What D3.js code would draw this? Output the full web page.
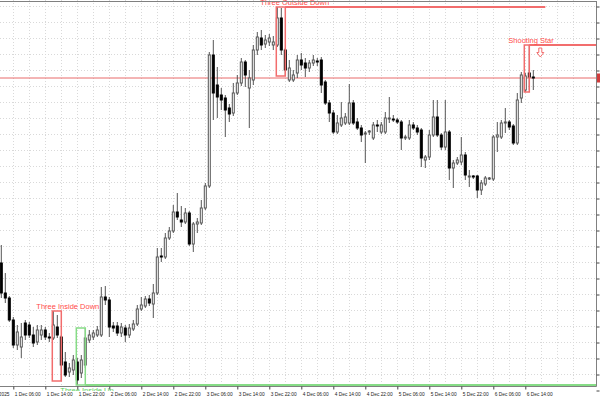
<!DOCTYPE html>
<html>
<head>
<meta charset="utf-8">
<script src="https://cdnjs.cloudflare.com/ajax/libs/d3/7.8.5/d3.min.js"></script>
<style>
body { margin: 0; background: #fff; }
svg { display: block; }
</style>
</head>
<body>
<script>
// hourly bars, first bar = 1 Dec 2025 03:00
var firstBar = Date.UTC(2025, 11, 1, 3)

var opens = [87775, 87025, 86900, 86350, 85725, 85675, 86275, 86225, 85975, 85800,
  85975, 86100, 85925, 85900, 86175, 85925, 85300, 85050, 85100, 85300,
  85025, 85225, 85850, 85925, 85975, 85975, 86925, 86850, 86200, 86200,
  86025, 86150, 85975, 86125, 86250, 86625, 86700, 86875, 86750, 87025,
  87950, 87925, 88400, 88575, 89050, 88850, 88800, 89025, 88250, 88750,
  88775, 89150, 89700, 92975, 92225, 91975, 91900, 91650, 91525, 92025,
  92275, 92800, 92150, 92350, 93100, 93400, 93250, 93300, 93225, 93225,
  93900, 93100, 92350, 92350, 92525, 92850, 92775, 92650, 92775, 92825,
  92850, 92300, 91775, 91525, 91050, 91225, 91275, 91275, 91775, 91300,
  91150, 91000, 91050, 90900, 91225, 91050, 91050, 91375, 91375, 91350,
  91300, 90900, 90900, 91225, 91150, 91100, 90350, 90425, 90975, 91425,
  90975, 90675, 91050, 90150, 90275, 90300, 90475, 89925, 89950, 89950,
  89600, 89750, 89875, 89875, 90925, 90925, 91275, 91300, 91200, 90775,
  91900, 92100, 92525, 92425]
var highs = [88225, 87525, 86950, 86425, 86225, 86275, 86350, 86300, 86175, 86225,
  86225, 86175, 86025, 86575, 86475, 85975, 85550, 85275, 85475, 85400,
  85475, 86150, 86100, 86100, 86200, 87175, 87200, 86925, 86300, 86300,
  86275, 86225, 86250, 86350, 86725, 86925, 86950, 86975, 87250, 88150,
  88150, 88525, 88675, 89225, 89525, 89200, 89150, 89075, 88800, 88900,
  89350, 89775, 93050, 93350, 92675, 92150, 91975, 91750, 92275, 92475,
  92900, 92850, 92600, 93225, 93550, 93600, 93475, 93500, 93450, 94175,
  94150, 93150, 92850, 92600, 92975, 93025, 92900, 92850, 92975, 92900,
  92925, 92350, 91850, 91600, 91475, 91800, 91525, 92250, 91850, 91400,
  91225, 91075, 91100, 91300, 91350, 91300, 91550, 91925, 91475, 91400,
  91350, 90975, 91350, 91300, 91225, 91150, 90475, 91100, 91850, 91850,
  91025, 91850, 91100, 90350, 90425, 90925, 90550, 90100, 89975, 89975,
  89850, 89950, 89925, 90975, 91300, 91350, 91650, 91350, 91250, 92025,
  92550, 92525, 93225, 92600]
var lows = [86900, 86775, 86300, 85650, 85600, 85400, 85850, 85900, 85675, 85725,
  85850, 85850, 85800, 85850, 85900, 84825, 84925, 84925, 84975, 84725,
  84900, 85150, 85775, 85850, 85925, 85925, 86725, 85925, 86050, 85950,
  85925, 85800, 85900, 86075, 86200, 86575, 86650, 86700, 86400, 86975,
  87800, 87875, 88350, 88525, 88850, 88675, 88750, 88200, 88050, 88525,
  88725, 89100, 89650, 91350, 91400, 91600, 90925, 91300, 91450, 91975,
  92200, 92175, 91150, 92225, 92975, 93100, 93150, 93200, 93100, 93175,
  92975, 92450, 92300, 92300, 92400, 92600, 92425, 92550, 92700, 92700,
  92025, 91725, 91300, 91000, 91000, 91175, 91225, 91225, 91225, 91100,
  90800, 90275, 90975, 90850, 91050, 91000, 91000, 91275, 91300, 91250,
  90600, 90850, 90850, 91100, 90975, 90175, 90150, 90350, 90925, 90925,
  90600, 90600, 89850, 89650, 90225, 90225, 89850, 89675, 89875, 89400,
  89475, 89700, 89850, 89825, 90550, 90875, 91025, 91100, 90725, 90725,
  91775, 92050, 92100, 92100]
var closes = [87025, 86900, 86350, 85725, 86050, 85925, 85975, 85975, 85775, 86100,
  86100, 85925, 85900, 86225, 85975, 85225, 84975, 85150, 85350, 84850,
  85350, 85900, 85975, 86025, 86100, 86925, 86850, 86175, 86150, 86025,
  86175, 85975, 86150, 86250, 86625, 86725, 86875, 86775, 87025, 87925,
  87925, 88400, 88575, 89050, 88925, 88800, 89025, 88250, 88750, 88800,
  89150, 89700, 92975, 92025, 91925, 91850, 91600, 91500, 92025, 92275,
  92800, 92475, 92400, 93100, 93425, 93225, 93350, 93400, 93300, 93900,
  93100, 92600, 92650, 92475, 92850, 92725, 92650, 92775, 92850, 92800,
  92225, 91775, 91525, 91050, 91275, 91400, 91425, 91775, 91275, 91150,
  90975, 91025, 91075, 91225, 91200, 91225, 91400, 91400, 91350, 91300,
  90900, 90925, 91225, 91150, 91050, 90400, 90425, 90975, 91425, 90975,
  90675, 91050, 90150, 90275, 90350, 90475, 89975, 89950, 89925, 89600,
  89775, 89900, 89900, 90925, 90975, 91275, 91300, 91175, 90775, 91850,
  92475, 92450, 92425, 92400]

var priceTicks = [84600, 85000, 85400, 85800, 86200, 86600, 87000, 87400, 87800, 88200,
  88600, 89000, 89400, 89800, 90200, 90600, 91000, 91400, 91800, 92200,
  92600, 93000, 93400, 93800, 94200]
var timeLabels = ["1 Dec 2025", "1 Dec 06:00", "1 Dec 14:00", "1 Dec 22:00", "2 Dec 06:00",
  "2 Dec 14:00", "2 Dec 22:00", "3 Dec 06:00", "3 Dec 14:00", "3 Dec 22:00",
  "4 Dec 06:00", "4 Dec 14:00", "4 Dec 22:00", "5 Dec 06:00", "5 Dec 14:00",
  "5 Dec 22:00", "6 Dec 06:00", "6 Dec 14:00"]
var timeLabelHours = [0, 6, 14, 22, 30, 38, 46, 54, 62, 70, 78, 86, 94, 102, 110, 118, 126, 134]

// candle patterns: first/last bar (hours from 1 Dec 00:00), box top/bottom price
var patterns = [
  {name: "Three Inside Down", from: 16, to: 18, top: 86575, bottom: 84825, color: "red", label: "above", lineTo: null},
  {name: "Three Inside Up", from: 22, to: 24, top: 86150, bottom: 84725, color: "green", label: "below", lineTo: 170},
  {name: "Three Outside Down", from: 72, to: 74, top: 94175, bottom: 92450, color: "red", label: "above", lineTo: 139},
  {name: "Shooting Star", from: 134, to: 135, top: 93225, bottom: 92050, color: "red", label: "above", lineTo: 170}
]
var lastPrice = 92400

var W = 600, H = 400
var plotRight = 596, plotBottom = 386
var hour = 3600 * 1000
var t0 = Date.UTC(2025, 11, 1, 0)

var bars = opens.map(function(o, i) {
  return {t: new Date(firstBar + i * hour), o: o, h: highs[i], l: lows[i], c: closes[i]}
})

var x = d3.scaleUtc()
  .domain([new Date(t0), new Date(t0 + 144 * hour)])
  .range([-10.7, 565.3])
var y = d3.scaleLinear()
  .domain([84600, 94350])
  .range([390, 0])

function hx(h) { return x(new Date(t0 + h * hour)) }

var colors = {red: "#f26d6d", green: "#86dc86"}
var textColors = {red: "#ff4a4a", green: "#5ccf5c"}

var svg = d3.select("body")
  .append("svg")
  .attr("width", W)
  .attr("height", H)
  .style("font-family", "'Liberation Sans', Arial, sans-serif")

svg.append("rect").attr("width", W).attr("height", H).attr("fill", "#fff")

svg.append("clipPath").attr("id", "plot")
  .append("rect").attr("x", 0).attr("y", 0).attr("width", plotRight).attr("height", plotBottom)
svg.append("clipPath").attr("id", "plotlow")
  .append("rect").attr("x", 0).attr("y", 0).attr("width", plotRight).attr("height", 391)

// grid
var grid = svg.append("g").attr("clip-path", "url(#plot)")
grid.selectAll(".hg")
  .data(priceTicks).enter()
  .append("line")
  .attr("x1", 0).attr("x2", plotRight)
  .attr("y1", function(d) { return y(d) + 0.5 })
  .attr("y2", function(d) { return y(d) + 0.5 })
  .attr("stroke", "#d9d9d9")
  .attr("stroke-dasharray", "1,2")

var gridHours = d3.range(6, 150, 4)
grid.selectAll(".vg")
  .data(gridHours).enter()
  .append("line")
  .attr("x1", function(d) { return Math.round(hx(d)) + 0.5 })
  .attr("x2", function(d) { return Math.round(hx(d)) + 0.5 })
  .attr("y1", 0).attr("y2", plotBottom)
  .attr("stroke", "#d9d9d9")
  .attr("stroke-dasharray", "1,2")

// current price line
svg.append("line")
  .attr("x1", 0).attr("x2", plotRight)
  .attr("y1", y(lastPrice)).attr("y2", y(lastPrice))
  .attr("stroke", "#e86a6a")
  .attr("stroke-width", 1)

// candles
var chart = svg.append("g").attr("clip-path", "url(#plot)")
var candles = chart.selectAll(".bar")
  .data(bars).enter()
  .append("g")

candles.append("line")
  .attr("x1", function(d) { return x(d.t) })
  .attr("x2", function(d) { return x(d.t) })
  .attr("y1", function(d) { return y(d.h) })
  .attr("y2", function(d) { return y(d.l) })
  .attr("stroke", "#555")

candles.append("rect")
  .attr("x", function(d) { return x(d.t) - 1 })
  .attr("y", function(d) { return y(Math.max(d.o, d.c)) })
  .attr("width", 2)
  .attr("height", function(d) { return Math.max(0.6, Math.abs(y(d.o) - y(d.c))) })
  .attr("fill", function(d) { return d.c >= d.o ? "#fff" : "#000" })
  .attr("stroke", function(d) { return d.c >= d.o ? "#555" : "#000" })
  .attr("stroke-width", 1)

// patterns
var pat = svg.append("g")
pat.selectAll(".box")
  .data(patterns).enter()
  .append("rect")
  .attr("clip-path", "url(#plot)")
  .attr("x", function(d) { return hx(d.from) - 1 })
  .attr("y", function(d) { return y(d.top) })
  .attr("width", function(d) { return hx(d.to) - hx(d.from) + 1 })
  .attr("height", function(d) { return y(d.bottom) - y(d.top) })
  .attr("fill", "none")
  .attr("stroke", function(d) { return colors[d.color] })
  .attr("stroke-width", 1.5)

pat.selectAll(".lvl")
  .data(patterns.filter(function(d) { return d.lineTo })).enter()
  .append("line")
  .attr("clip-path", "url(#plot)")
  .attr("x1", function(d) { return hx(d.to) })
  .attr("x2", function(d) { return Math.min(hx(d.lineTo), plotRight) })
  .attr("y1", function(d) { return y(d.label == "below" ? d.bottom : d.top) })
  .attr("y2", function(d) { return y(d.label == "below" ? d.bottom : d.top) })
  .attr("stroke", function(d) { return colors[d.color] })
  .attr("stroke-width", 2)

pat.selectAll(".lbl")
  .data(patterns).enter()
  .append("text")
  .attr("clip-path", "url(#plotlow)")
  .attr("x", function(d) { return hx(d.from) - 17 })
  .attr("y", function(d) { return d.label == "below" ? y(d.bottom) + 7.5 : y(d.top) - 2 })
  .attr("font-size", "7.5px")
  .attr("fill", function(d) { return textColors[d.color] })
  .text(function(d) { return d.name })

// down arrow next to the shooting star
var star = patterns[3]
svg.append("path")
  .attr("transform", "translate(" + (hx(star.to) + 11) + "," + (y(star.top) + 3) + ")")
  .attr("d", "M-1.5,0 L1.5,0 L1.5,4.5 L3.5,4.5 L0,9 L-3.5,4.5 L-1.5,4.5 Z")
  .attr("fill", "#fff")
  .attr("stroke", "#f26d6d")
  .attr("stroke-width", 1)

// frame
svg.append("line").attr("x1", 0).attr("x2", plotRight + 0.5).attr("y1", 1.5).attr("y2", 1.5)
  .attr("stroke", "#808080")
svg.append("line").attr("x1", plotRight + 0.5).attr("x2", plotRight + 0.5).attr("y1", 1).attr("y2", plotBottom + 0.5)
  .attr("stroke", "#808080")
svg.append("line").attr("x1", 0).attr("x2", plotRight + 0.5).attr("y1", plotBottom + 0.5).attr("y2", plotBottom + 0.5)
  .attr("stroke", "#808080")

// price axis: the labels run off the right edge of the window
var yAxis = d3.axisRight(y)
  .tickValues(priceTicks)
  .tickSize(3)
  .tickFormat(function(d) { return d.toFixed(2) })
var py = svg.append("g")
  .attr("transform", "translate(" + (plotRight + 0.5) + ",0.5)")
  .call(yAxis)
py.select(".domain").remove()
py.selectAll("line").attr("stroke", "#444")
py.selectAll("text")
  .attr("x", 5)
  .attr("font-size", "6px")
  .attr("font-family", "'Liberation Sans', Arial, sans-serif")
  .attr("fill", "#222")

svg.append("rect")
  .attr("x", plotRight + 1).attr("y", y(lastPrice) - 4.5)
  .attr("width", 40).attr("height", 9)
  .attr("fill", "#d23c3c")
svg.append("text")
  .attr("x", plotRight + 5).attr("y", y(lastPrice) + 2.2)
  .attr("font-size", "6px")
  .attr("fill", "#fff")
  .text(lastPrice.toFixed(2))

// time axis
var timeAxis = d3.axisBottom(x)
  .tickValues(timeLabelHours.map(function(h) { return new Date(t0 + h * hour) }))
  .tickSize(3)
  .tickFormat(function(d, i) { return timeLabels[i] })
var ax = svg.append("g")
  .attr("transform", "translate(0," + (plotBottom + 0.5) + ")")
  .call(timeAxis)
ax.select(".domain").remove()
ax.selectAll("line").attr("stroke", "#444")
ax.selectAll("text")
  .attr("text-anchor", function(d, i) { return i == 0 ? "end" : "start" })
  .attr("x", function(d, i) { return i == 0 ? 9 - x(d) : 1 })
  .attr("y", 6)
  .attr("font-size", "4.8px")
  .attr("font-family", "'Liberation Sans', Arial, sans-serif")
  .attr("fill", "#222")
</script>
</body>
</html>
